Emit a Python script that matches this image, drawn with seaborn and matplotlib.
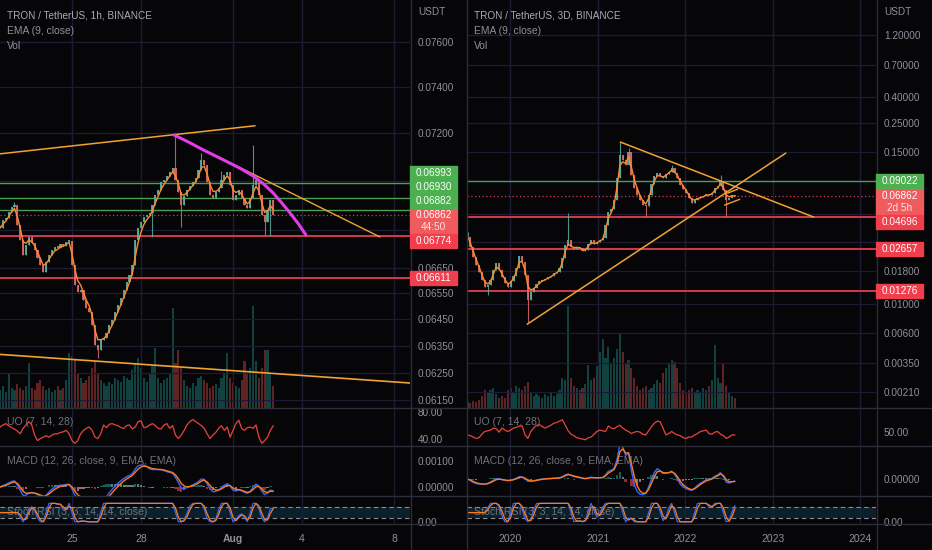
import numpy as np
import pandas as pd
import matplotlib
matplotlib.use("Agg")
import matplotlib.pyplot as plt
from matplotlib.lines import Line2D
from matplotlib.patches import Rectangle
from matplotlib.ticker import NullLocator, NullFormatter
import seaborn as sns

sns.set_theme(style="dark")
plt.rcParams["font.family"] = ["Liberation Sans", "DejaVu Sans"]

# ---------------------------------------------------------------- data: left chart (TRX/USDT 1h, read as 3h candles)
l_title = ["TRON / TetherUS, 1h, BINANCE", "EMA (9, close)", "Vol"]
l_start_day = 21.875          # July day number of first candle
l_step_day = 0.125            # 3 hours
l_close = [0.06808, 0.06840, 0.06848, 0.06873, 0.06893, 0.06901, 0.06820, 0.06760, 0.06700, 0.06740,
           0.06772, 0.06748, 0.06720, 0.06688, 0.06660, 0.06633, 0.06672, 0.06700, 0.06720, 0.06732,
           0.06728, 0.06744, 0.06736, 0.06752, 0.06756, 0.06660, 0.06583, 0.06556, 0.06564, 0.06525,
           0.06494, 0.06479, 0.06429, 0.06355, 0.06336, 0.06373, 0.06381, 0.06399, 0.06429, 0.06449,
           0.06479, 0.06506, 0.06533, 0.06564, 0.06594, 0.06621, 0.06660, 0.06760, 0.06808, 0.06832,
           0.06853, 0.06861, 0.06869, 0.06901, 0.06943, 0.06964, 0.06996, 0.07005, 0.07021, 0.07038,
           0.07055, 0.07005, 0.06955, 0.06901, 0.06939, 0.06964, 0.06980, 0.06996, 0.07013, 0.07046,
           0.07088, 0.07067, 0.06996, 0.06943, 0.06930, 0.06955, 0.06972, 0.07005, 0.07025, 0.07038,
           0.06984, 0.06922, 0.06943, 0.06964, 0.06930, 0.06901, 0.06889, 0.06930, 0.06984, 0.07005,
           0.06943, 0.06861, 0.06832, 0.06882, 0.06922, 0.06862]
l_volume = [18, 22, 16, 35, 20, 18, 24, 20, 18, 22,
            45, 20, 18, 25, 28, 22, 18, 20, 16, 18,
            22, 18, 20, 28, 55, 52, 48, 35, 30, 25,
            28, 32, 40, 47, 35, 28, 25, 22, 26, 24,
            30, 28, 26, 32, 30, 28, 38, 45, 50, 40,
            30, 26, 35, 42, 60, 30, 25, 28, 30, 35,
            100, 45, 58, 40, 28, 22, 20, 25, 22, 30,
            32, 28, 25, 20, 22, 24, 20, 30, 35, 55,
            30, 25, 22, 20, 28, 47, 35, 40, 102, 47,
            30, 40, 58, 58, 35, 22]
l_uo = [58, 61, 63, 60, 57, 55, 52, 48, 56, 61,
        66, 61, 46, 38, 41, 43, 45, 43, 46, 48,
        48, 50, 51, 53, 48, 38, 34, 38, 48, 53,
        56, 58, 53, 43, 41, 48, 61, 57, 62, 63,
        61, 60, 57, 56, 60, 61, 55, 58, 66, 67,
        57, 58, 61, 63, 60, 56, 55, 61, 63, 56,
        60, 46, 41, 46, 53, 61, 66, 69, 66, 63,
        60, 56, 48, 41, 46, 50, 56, 60, 53, 58,
        43, 53, 63, 68, 56, 53, 57, 58, 56, 61,
        43, 34, 38, 43, 53, 60]
l_wick_hi_idx = [5, 61, 70, 77, 88]
l_wick_hi_val = [0.06915, 0.07193, 0.07117, 0.07040, 0.07151]
l_wick_lo_idx = [34, 53, 63, 92, 94]
l_wick_lo_val = [0.06306, 0.06772, 0.06812, 0.06778, 0.06776]
l_green_levels = [0.06993, 0.06930, 0.06882]
l_red_levels = [0.06774, 0.06611]
l_last_price = 0.06862
l_countdown = "44:50"
l_xlim = [21.870, 39.696]
l_ylim = [0.06121, 0.07790]
l_grid_y = [0.0760, 0.0740, 0.0720, 0.0700, 0.0680, 0.0665, 0.0655, 0.0645, 0.0635, 0.0625, 0.0615]
l_yticks = [0.0760, 0.0740, 0.0720, 0.0665, 0.0655, 0.0645, 0.0635, 0.0625, 0.0615]
l_xticks = [25, 28, 32, 35, 39]
l_xlabels = ["25", "28", "Aug", "4", "8"]
l_trend_upper_x = [21.87, 32.96]
l_trend_upper_y = [0.07113, 0.07232]
l_trend_desc_x = [29.435, 38.39]
l_trend_desc_y = [0.07193, 0.06772]
l_trend_lower_x = [21.87, 39.70]
l_trend_lower_y = [0.06318, 0.06212]
l_arc_x = [29.435, 30.10, 30.696, 31.20, 31.739, 32.30, 32.87, 33.30, 33.74, 34.10, 34.48, 34.85, 35.17]
l_arc_y = [0.07193, 0.07161, 0.07130, 0.07106, 0.07080, 0.07053, 0.07021, 0.06990, 0.06951, 0.06912, 0.06869, 0.06824, 0.06780]
l_uo_ticks = [80, 40]
l_uo_ylim = [30, 86]
l_macd_ticks = [0.001, 0.0]
l_macd_ylim = [-0.000346, 0.00158]
l_bar_factor = 3              # 3h candle = 3 chart bars

# ---------------------------------------------------------------- data: right chart (TRX/USDT 3D, read as 12-day candles)
r_title = ["TRON / TetherUS, 3D, BINANCE", "EMA (9, close)", "Vol"]
r_start_year = 2019.513
r_step_year = 12 / 365.25
r_close = [0.0330, 0.0276, 0.0231, 0.0200, 0.0178, 0.0154, 0.0136, 0.0140, 0.0154, 0.0184,
           0.0208, 0.0184, 0.0162, 0.0145, 0.0136, 0.0150, 0.0165, 0.0191, 0.0235, 0.0211,
           0.0167, 0.0108, 0.0124, 0.0133, 0.0143, 0.0150, 0.0154, 0.0157, 0.0162, 0.0165,
           0.0174, 0.0178, 0.0191, 0.0227, 0.0286, 0.0312, 0.0276, 0.0269, 0.0276, 0.0272,
           0.0258, 0.0261, 0.0291, 0.0312, 0.0291, 0.0301, 0.0312, 0.0324, 0.0410, 0.0519,
           0.0540, 0.0637, 0.0946, 0.1416, 0.1305, 0.1200, 0.1490, 0.0988, 0.0785, 0.0697,
           0.0637, 0.0585, 0.0574, 0.0697, 0.0842, 0.0976, 0.1040, 0.0976, 0.0946, 0.1012,
           0.1056, 0.1120, 0.1040, 0.0946, 0.0827, 0.0775, 0.0722, 0.0660, 0.0609, 0.0637,
           0.0660, 0.0672, 0.0684, 0.0709, 0.0697, 0.0722, 0.0785, 0.0815, 0.0890, 0.0761,
           0.0637, 0.0660, 0.0697, 0.06862]
r_volume = [6, 5, 7, 6, 8, 12, 18, 16, 18, 20,
            14, 10, 12, 10, 18, 20, 16, 22, 20, 18,
            22, 26, 15, 12, 14, 12, 10, 14, 12, 15,
            12, 14, 18, 30, 28, 101, 30, 22, 20, 18,
            20, 24, 43, 28, 30, 42, 55, 68, 50, 60,
            45, 50, 58, 73, 55, 45, 48, 40, 30, 22,
            18, 20, 22, 18, 20, 24, 28, 25, 35, 40,
            45, 48, 46, 40, 25, 18, 16, 18, 20, 15,
            18, 16, 20, 18, 22, 28, 62, 30, 25, 45,
            22, 15, 12, 10]
r_uo = [46, 45, 43, 41, 42, 47, 51, 52, 53, 56,
        55, 50, 56, 53, 51, 53, 56, 57, 59, 59,
        46, 41, 51, 56, 60, 61, 58, 56, 58, 60,
        63, 64, 66, 68, 60, 52, 47, 45, 42, 41,
        40, 39, 42, 43, 47, 51, 53, 52, 51, 59,
        56, 55, 58, 60, 56, 53, 51, 48, 50, 51,
        50, 47, 46, 52, 58, 63, 66, 65, 56, 46,
        48, 51, 48, 46, 45, 42, 41, 43, 43, 46,
        48, 51, 52, 53, 48, 47, 50, 51, 47, 45,
        41, 43, 46, 46]
r_wick_hi_idx = [0, 35, 53, 56, 71, 88]
r_wick_hi_val = [0.0362, 0.0506, 0.1780, 0.1600, 0.1180, 0.0993]
r_wick_lo_idx = [7, 21, 62, 90]
r_wick_lo_val = [0.0117, 0.0071, 0.0471, 0.0471]
r_green_levels = [0.09022]
r_red_levels = [0.04696, 0.02657, 0.01276]
r_last_price = 0.06862
r_countdown = "2d 5h"
r_xlim = [2019.507, 2024.181]
r_ylim = [0.00158, 2.237]
r_grid_y = [1.2, 0.7, 0.4, 0.25, 0.15, 0.09, 0.05, 0.03, 0.018, 0.010, 0.006, 0.0035, 0.0021]
r_yticks = [1.2, 0.7, 0.4, 0.25, 0.15, 0.018, 0.010, 0.006, 0.0035, 0.0021]
r_xticks = [2020, 2021, 2022, 2023, 2024]
r_xlabels = ["2020", "2021", "2022", "2023", "2024"]
r_trend_desc_x = [2021.26, 2023.47]
r_trend_desc_y = [0.1789, 0.0471]
r_trend_asc_x = [2020.195, 2023.15]
r_trend_asc_y = [0.00701, 0.1470]
r_flag_low_x = [2022.451, 2022.623]
r_flag_low_y = [0.0583, 0.0646]
r_flag_up_x = [2022.486, 2022.600]
r_flag_up_y = [0.0722, 0.0773]
r_uo_ticks = [50]
r_uo_ylim = [30, 85]
r_macd_ticks = [0.0]
r_bar_factor = 4              # 12-day candle = 4 chart bars

ind_labels = ["UO (7, 14, 28)", "MACD (12, 26, close, 9, EMA, EMA)", "Stoch RSI (3, 3, 14, 14, close)"]

# ---------------------------------------------------------------- style
W, H = 932, 550
BG = "#060608"
GRID = "#1d1a34"
SEP = "#2b2e38"
TXT = "#8e919a"
HEAD = "#a9acb4"
PANE_TXT = "#6e717a"
UP, DN = "#5aae9f", "#dd6a66"
VUP, VDN = "#26a69a", "#ef5350"
EMA_C = "#ff8a2a"
TREND = "#f2a232"
MAG = "#e03ce8"
GREEN_LINE, RED_LINE = "#4d9e51", "#d53a49"
GREEN_BOX, RED_BOX, CUR_BOX = "#4caf50", "#f03e4c", "#f05b5e"
UO_C = "#e8433c"
BLUE, ORANGE = "#3468ff", "#ff7a1a"

fig = plt.figure(figsize=(W / 100, H / 100), dpi=100, facecolor=BG)


def rect(x0, y0, x1, y1):
    return [x0 / W, 1 - y1 / H, (x1 - x0) / W, (y1 - y0) / H]


def mk_ax(x0, y0, x1, y1, visible_patch=True):
    a = fig.add_axes(rect(x0, y0, x1, y1))
    a.set_facecolor(BG)
    a.patch.set_visible(visible_patch)
    for s in a.spines.values():
        s.set_visible(False)
    a.grid(False)
    a.tick_params(axis="both", length=0, labelsize=7.2, labelcolor=TXT, pad=5.8)
    return a


def ema(v, span):
    return pd.Series(v, dtype=float).ewm(span=span, adjust=False).mean().to_numpy()


def rsi(c, n):
    d = pd.Series(c, dtype=float).diff()
    up = d.clip(lower=0).ewm(alpha=1 / n, adjust=False).mean()
    dn = (-d.clip(upper=0)).ewm(alpha=1 / n, adjust=False).mean()
    return 100 - 100 / (1 + up / dn.replace(0, np.nan))


def stoch_rsi(c, rlen, slen, k, d):
    r = rsi(c, rlen)
    lo = r.rolling(slen, min_periods=1).min()
    hi = r.rolling(slen, min_periods=1).max()
    st = (100 * (r - lo) / (hi - lo).replace(0, np.nan)).fillna(50)
    K = st.rolling(k, min_periods=1).mean()
    D = K.rolling(d, min_periods=1).mean()
    return K.to_numpy(), D.to_numpy()


def hline_fig(x0, x1, y):
    fig.add_artist(Line2D([x0 / W, x1 / W], [1 - y / H, 1 - y / H], color=SEP, lw=1.0, transform=fig.transFigure))


def vline_fig(x, y0, y1):
    fig.add_artist(Line2D([x / W, x / W], [1 - y0 / H, 1 - y1 / H], color=SEP, lw=1.0, transform=fig.transFigure))


def price_boxes(ax, box_x0, greens, reds, last, countdown):
    bw, bh = 47, 14
    def dy(p):
        return ax.transData.transform((ax.get_xlim()[0], p))[1]
    yc = dy(last)
    cur_top, cur_bot = yc + bh / 2, yc - bh / 2 - 12
    fig.add_artist(Rectangle((box_x0 / W, cur_bot / H), bw / W, (cur_top - cur_bot) / H, transform=fig.transFigure,
                             color=CUR_BOX, zorder=5))
    fig.text((box_x0 + bw / 2) / W, yc / H, f"{last:.5f}", color="white", fontsize=7.2, ha="center", va="center", zorder=6)
    fig.text((box_x0 + bw / 2) / W, (yc - 12) / H, countdown, color="#ffe0e0", fontsize=7.2, ha="center", va="center", zorder=6)
    items = [(p, GREEN_BOX) for p in greens] + [(p, RED_BOX) for p in reds]
    above = sorted([it for it in items if it[0] > last], key=lambda t: t[0])
    below = sorted([it for it in items if it[0] < last], key=lambda t: -t[0])
    placed = []
    lim = cur_top
    for p, col in above:
        y = max(dy(p), lim + bh / 2)
        lim = y + bh / 2
        placed.append((p, col, y))
    lim = cur_bot
    for p, col in below:
        y = min(dy(p), lim - bh / 2)
        lim = y - bh / 2
        placed.append((p, col, y))
    for p, col, y in placed:
        fig.add_artist(Rectangle((box_x0 / W, (y - bh / 2) / H), bw / W, bh / H, transform=fig.transFigure,
                                 color=col, zorder=5))
        fig.text((box_x0 + bw / 2) / W, y / H, f"{p:.5f}", color="white", fontsize=7.2, ha="center", va="center", zorder=6)


def draw_side(x0, x1, side):
    xw = x1 - x0
    close = np.asarray(side["close"], float)
    n = len(close)
    x = side["start"] + np.arange(n) * side["step"]
    f = side["factor"]

    vax = mk_ax(x0, 0, x1, 408)
    ax = mk_ax(x0, 0, x1, 408, visible_patch=False)
    uo_ax = mk_ax(x0, 408, x1, 446)
    mc_ax = mk_ax(x0, 446, x1, 496)
    st_ax = mk_ax(x0, 496, x1, 524)
    for a in (vax, ax, uo_ax, mc_ax, st_ax):
        a.set_xlim(side["xlim"])
        for t in side["xticks"]:
            a.axvline(t, color=GRID, lw=0.9, zorder=0)
        a.set_xticks([])

    # candles
    o = np.r_[close[0], close[:-1]]
    body_hi = np.maximum(o, close)
    body_lo = np.minimum(o, close)
    hi = body_hi.copy()
    lo = body_lo.copy()
    hi[side["hi_idx"]] = np.maximum(hi[side["hi_idx"]], side["hi_val"])
    lo[side["lo_idx"]] = np.minimum(lo[side["lo_idx"]], side["lo_val"])
    rising = close >= o
    cols = np.where(rising, UP, DN)

    # volume
    vcols = np.where(rising, VUP, VDN)
    vax.bar(x, side["volume"], width=side["step"] * 0.75, color=vcols, alpha=0.38, linewidth=0)
    vax.set_ylim(0, max(side["volume"]) * 4.0)
    vax.set_yticks([])

    # price axis
    ax.set_yscale("log")
    ax.set_ylim(side["ylim"])
    for t in side["grid_y"]:
        ax.axhline(t, color=GRID, lw=0.9, zorder=0)
    ax.yaxis.tick_right()
    ax.set_yticks(side["yticks"])
    ax.set_yticklabels([f"{t:.5f}" for t in side["yticks"]])
    ax.yaxis.set_minor_locator(NullLocator())
    ax.yaxis.set_minor_formatter(NullFormatter())

    for p in side["greens"]:
        ax.axhline(p, color=GREEN_LINE, lw=1.0, zorder=2)
    for p in side["reds"]:
        ax.axhline(p, color=RED_LINE, lw=1.4, zorder=2)
    ax.axhline(side["last"], color=RED_LINE, lw=0.9, ls=(0, (1, 2)), zorder=2)

    ax.vlines(x, lo, hi, colors=cols, lw=0.8, alpha=0.85, zorder=3)
    ax.bar(x, np.maximum(body_hi - body_lo, body_lo * 0.0012), bottom=body_lo,
           width=side["step"] * 0.72, color=cols, alpha=0.9, linewidth=0, zorder=3)
    sns.lineplot(x=x, y=ema(close, 9 / f), ax=ax, color=EMA_C, linewidth=1.0, estimator=None, sort=False, zorder=4)

    for tx, ty, col, lw in side["drawings"]:
        ax.plot(tx, ty, color=col, lw=lw, zorder=5, solid_capstyle="round")

    # UO
    sns.lineplot(x=x, y=side["uo"], ax=uo_ax, color=UO_C, linewidth=0.9, estimator=None, sort=False, zorder=3)
    uo_ax.set_ylim(side["uo_ylim"])
    uo_ax.yaxis.tick_right()
    uo_ax.set_yticks(side["uo_ticks"])
    uo_ax.set_yticklabels([f"{t:.2f}" for t in side["uo_ticks"]])

    # MACD
    macd = ema(close, 12 / f) - ema(close, 26 / f)
    sig = ema(macd, 9 / f)
    hist = macd - sig
    dh = np.r_[0, np.diff(hist)]
    hcols = np.where(hist >= 0, np.where(dh >= 0, "#26a69a", "#b2dfdb"), np.where(dh < 0, "#ff5252", "#ffcdd2"))
    mc_ax.bar(x, hist, width=side["step"] * 0.8, color=hcols, alpha=0.55, linewidth=0, zorder=2)
    sns.lineplot(x=x, y=macd, ax=mc_ax, color=BLUE, linewidth=1.0, estimator=None, sort=False, zorder=3)
    sns.lineplot(x=x, y=sig, ax=mc_ax, color=ORANGE, linewidth=1.0, estimator=None, sort=False, zorder=4)
    if side["macd_ylim"] is not None:
        mc_ax.set_ylim(side["macd_ylim"])
    else:
        b = min(macd.min(), sig.min()) * 1.08
        mc_ax.set_ylim(b, -b * 33 / 17)
    mc_ax.yaxis.tick_right()
    mc_ax.set_yticks(side["macd_ticks"])
    mc_ax.set_yticklabels([f"{t:.5f}" for t in side["macd_ticks"]])

    # Stoch RSI
    rl = max(2, round(14 / f))
    K, D = stoch_rsi(close, rl, rl, 2, 2)
    st_ax.axhspan(20, 80, color="#0f2a38", alpha=0.75, zorder=1, linewidth=0)
    for lv in (20, 80):
        st_ax.axhline(lv, color="#8a8d96", lw=0.8, ls=(0, (4, 3)), zorder=2)
    sns.lineplot(x=x, y=K, ax=st_ax, color=BLUE, linewidth=0.9, estimator=None, sort=False, zorder=3)
    sns.lineplot(x=x, y=D, ax=st_ax, color=ORANGE, linewidth=0.9, estimator=None, sort=False, zorder=4)
    st_ax.set_ylim(-12, 140)
    st_ax.yaxis.tick_right()
    st_ax.set_yticks([0])
    st_ax.set_yticklabels(["0.00"])
    st_ax.set_xticks(side["xticks"])
    st_ax.set_xticklabels(side["xlabels"])
    st_ax.tick_params(axis="x", pad=7.0, labelsize=7.5, labelcolor=TXT)
    for lab in st_ax.get_xticklabels():
        if lab.get_text() == "Aug":
            lab.set_fontweight("bold")

    for a in (ax, vax, uo_ax, mc_ax, st_ax):
        a.set_xlabel("")
        a.set_ylabel("")

    # indicator labels inside panes
    for a, (py0, py1), ypx, s in [(uo_ax, (408, 446), 422, ind_labels[0]),
                                  (mc_ax, (446, 496), 461, ind_labels[1]),
                                  (st_ax, (496, 524), 512, ind_labels[2])]:
        a.text(7 / xw, (py1 - ypx) / (py1 - py0), s, transform=a.transAxes, ha="left", va="center",
               color=PANE_TXT, fontsize=7.6, zorder=1)

    # header
    for i, (s, yy) in enumerate(zip(side["title"], [15, 31, 46])):
        fig.text((x0 + 7) / W, 1 - yy / H, s, color=HEAD if i == 0 else TXT, fontsize=7.2 if i == 0 else 7.4,
                 ha="left", va="center")
    fig.text((x1 + 8) / W, 1 - 12 / H, "USDT", color=TXT, fontsize=7.2, ha="left", va="center")

    # separators
    for y in (408, 446, 496, 524):
        hline_fig(x0, x0 + 466 if x0 == 0 else W, y)
    vline_fig(x1 + 0.5, 0, H)

    price_boxes(ax, x1, side["greens"], side["reds"], side["last"], side["countdown"])


left = dict(close=l_close, volume=l_volume, uo=l_uo, start=l_start_day, step=l_step_day, factor=l_bar_factor,
            hi_idx=l_wick_hi_idx, hi_val=l_wick_hi_val, lo_idx=l_wick_lo_idx, lo_val=l_wick_lo_val,
            greens=l_green_levels, reds=l_red_levels, last=l_last_price, countdown=l_countdown,
            xlim=l_xlim, ylim=l_ylim, grid_y=l_grid_y, yticks=l_yticks, xticks=l_xticks, xlabels=l_xlabels,
            uo_ylim=l_uo_ylim, uo_ticks=l_uo_ticks, macd_ylim=l_macd_ylim, macd_ticks=l_macd_ticks,
            title=l_title,
            drawings=[(l_trend_upper_x, l_trend_upper_y, TREND, 1.1),
                      (l_trend_desc_x, l_trend_desc_y, TREND, 1.0),
                      (l_trend_lower_x, l_trend_lower_y, TREND, 1.2),
                      (l_arc_x, l_arc_y, MAG, 2.2)])
right = dict(close=r_close, volume=r_volume, uo=r_uo, start=r_start_year, step=r_step_year, factor=r_bar_factor,
             hi_idx=r_wick_hi_idx, hi_val=r_wick_hi_val, lo_idx=r_wick_lo_idx, lo_val=r_wick_lo_val,
             greens=r_green_levels, reds=r_red_levels, last=r_last_price, countdown=r_countdown,
             xlim=r_xlim, ylim=r_ylim, grid_y=r_grid_y, yticks=r_yticks, xticks=r_xticks, xlabels=r_xlabels,
             uo_ylim=r_uo_ylim, uo_ticks=r_uo_ticks, macd_ylim=None, macd_ticks=r_macd_ticks,
             title=r_title,
             drawings=[(r_trend_desc_x, r_trend_desc_y, TREND, 1.1),
                       (r_trend_asc_x, r_trend_asc_y, TREND, 1.1),
                       (r_flag_low_x, r_flag_low_y, TREND, 1.0),
                       (r_flag_up_x, r_flag_up_y, TREND, 1.0)])

draw_side(0, 410, left)
draw_side(467, 876, right)
vline_fig(466.5, 0, H)

fig.savefig("out.png", dpi=100, facecolor=BG)
